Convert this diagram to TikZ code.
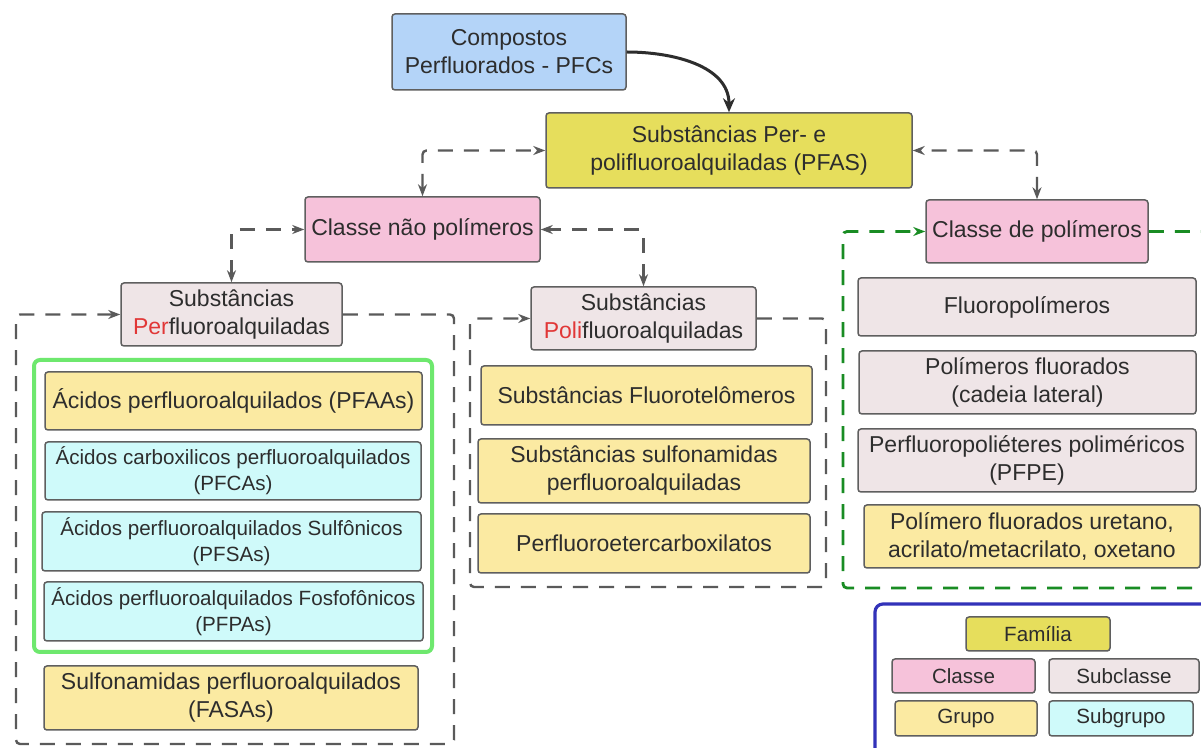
\documentclass[tikz,border=0pt]{standalone}
\usepackage{fontspec}
\setmainfont{Liberation Sans}
\usetikzlibrary{arrows.meta}

\definecolor{boxline}{RGB}{95,95,95}
\definecolor{txt}{RGB}{45,45,45}
\definecolor{pfcfill}{RGB}{180,212,248}
\definecolor{famfill}{RGB}{230,222,92}
\definecolor{clsfill}{RGB}{246,194,218}
\definecolor{subclsfill}{RGB}{239,229,231}
\definecolor{grpfill}{RGB}{251,234,162}
\definecolor{subgrpfill}{RGB}{207,250,250}
\definecolor{perred}{RGB}{225,55,55}
\definecolor{linkgray}{RGB}{90,90,90}
\definecolor{polgreen}{RGB}{25,140,35}
\definecolor{grpgreen}{RGB}{110,232,110}
\definecolor{legblue}{RGB}{50,50,185}

\begin{document}
\begin{tikzpicture}[x=0.5pt, y=-0.5pt]
\tikzset{
    box/.style={draw=boxline, line width=0.75pt, rounded corners=1.5pt, align=center,
        text=txt, inner sep=0pt, font=\fontsize{11.5}{14}\selectfont},
    sz/.style 2 args={minimum width=#1*0.5pt, minimum height=#2*0.5pt},
    pfcbox/.style={box, fill=pfcfill},
    familia/.style={box, fill=famfill},
    classe/.style={box, fill=clsfill},
    subclasse/.style={box, fill=subclsfill},
    grupo/.style={box, fill=grpfill},
    subgrupo/.style={box, fill=subgrpfill, font=\fontsize{10.3}{13}\selectfont},
    small/.style={font=\fontsize{10.3}{13}\selectfont},
    dashlink/.style={draw=linkgray, line width=1.2pt, dash pattern=on 7.5pt off 5.5pt, rounded corners=2pt},
    tip/.style={-{Stealth[length=6pt,width=4.5pt]}},
    bothtips/.style={{Stealth[length=6pt,width=4.5pt]}-{Stealth[length=6pt,width=4.5pt]}}
}
\useasboundingbox (0,0) rectangle (1201,748);
\fill[white] (0,0) rectangle (1201,748);
\clip (0,0) rectangle (1201,748);

% Families and classes
\node[pfcbox, sz={234}{76}] (pfcs) at (509,52) {Compostos\\Perfluorados - PFCs};
\node[familia, sz={366}{75}] (pfas) at (729,150.5) {Substâncias Per- e\\polifluoroalquiladas (PFAS)};
\node[classe, sz={235}{65}] (naopol) at (422.5,229.5) {Classe não polímeros};
\node[classe, sz={222}{63}] (pol) at (1037,231.5) {Classe de polímeros};

% Subclasses
\node[subclasse, sz={221}{63}] (perf) at (231.5,314.5) {Substâncias\\\textcolor{perred}{Per}fluoroalquiladas};
\node[subclasse, sz={225}{63}] (poli) at (643.5,318.5) {Substâncias\\\textcolor{perred}{Poli}fluoroalquiladas};

% Links
\draw[line width=1.5pt, draw=txt, -{Stealth[length=7pt,width=6pt]}] (pfcs.east) to[out=0, in=90] (pfas.north);
\draw[dashlink, bothtips] (naopol.north) |- (pfas.west);
\draw[dashlink, bothtips] (pol.north) |- (pfas.east);
\draw[dashlink, bothtips] (perf.north) |- (naopol.west);
\draw[dashlink, bothtips] (poli.north) |- (naopol.east);

% Group containers
\coordinate (aBR) at (454,744);
\coordinate (aBL) at (16,744);
\coordinate (bBR) at (826,587);
\coordinate (bBL) at (470,587);
\coordinate (cBR) at (1215,588);
\coordinate (cBL) at (843,588);
\draw[dashlink, tip] (perf.east) -| (aBR) -- (aBL) |- (perf.west);
\draw[dashlink, tip] (poli.east) -| (bBR) -- (bBL) |- (poli.west);
\draw[dashlink, tip, draw=polgreen, line width=1.4pt] (pol.east) -| (cBR) -- (cBL) |- (pol.west);

% Perfluoroalquiladas groups
\draw[draw=grpgreen, line width=2pt, rounded corners=3pt] (34,360) rectangle (432,652);
\node[grupo, sz={377}{58}] (pfaa) at (233.5,401) {Ácidos perfluoroalquilados (PFAAs)};
\node[subgrupo, sz={376}{58}] (pfca) at (233,471) {Ácidos carboxilicos perfluoroalquilados\\(PFCAs)};
\node[subgrupo, sz={379}{59}] (pfsa) at (231.5,541.5) {Ácidos perfluoroalquilados Sulfônicos\\(PFSAs)};
\node[subgrupo, sz={379}{59}] (pfpa) at (233.5,611.5) {Ácidos perfluoroalquilados Fosfofônicos\\(PFPAs)};
\node[grupo, sz={374}{64}] (fasa) at (231,698) {Sulfonamidas perfluoroalquilados\\(FASAs)};

% Polifluoroalquiladas groups
\node[grupo, sz={331}{59}] (ftel) at (646.5,395.5) {Substâncias Fluorotelômeros};
\node[grupo, sz={332}{64}] (sulf) at (644,471) {Substâncias sulfonamidas\\perfluoroalquiladas};
\node[grupo, sz={332}{59}] (peter) at (644,543.5) {Perfluoroetercarboxilatos};

% Polymers
\node[subclasse, sz={338}{58}] (fpol) at (1027,307) {Fluoropolímeros};
\node[subclasse, sz={337}{63}] (pfluo) at (1027.5,382.5) {Polímeros fluorados\\(cadeia lateral)};
\node[subclasse, sz={338}{63}] (pfpe) at (1027,460.5) {Perfluoropoliéteres poliméricos\\(PFPE)};
\node[grupo, sz={336}{63}] (uret) at (1032,536.5) {Polímero fluorados uretano,\\acrilato/metacrilato, oxetano};

% Legend
\draw[draw=legblue, line width=1.6pt, rounded corners=4pt] (875,604) rectangle (1230,770);
\node[familia, small, sz={144}{34}] (lfam) at (1038,634) {Família};
\node[classe, small, sz={143}{34}] (lcls) at (963.5,676) {Classe};
\node[subclasse, small, sz={150}{34}] (lscls) at (1124,676) {Subclasse};
\node[grupo, small, sz={142}{35}] (lgrp) at (966,718.5) {Grupo};
\node[subgrupo, sz={144}{35}] (lsgrp) at (1121,718.5) {Subgrupo};

\end{tikzpicture}
\end{document}
